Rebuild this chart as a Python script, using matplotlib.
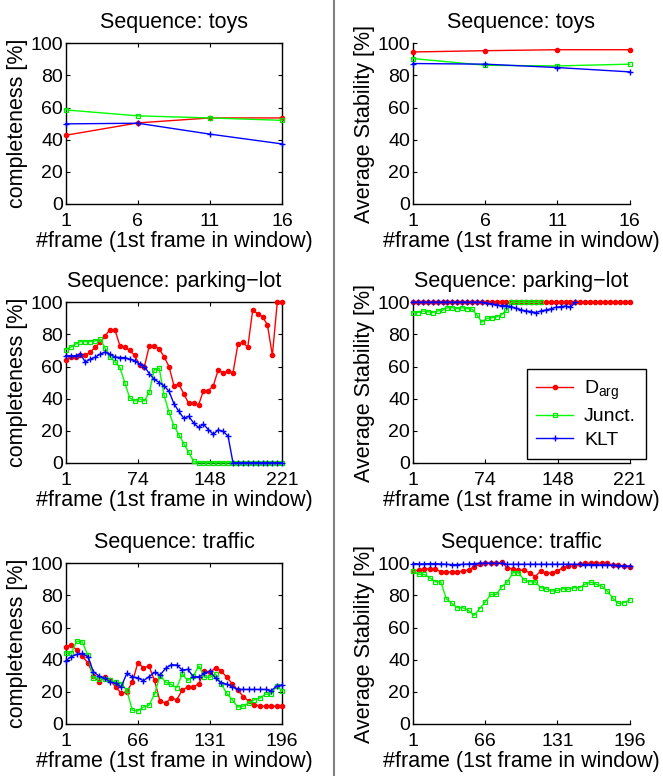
import numpy as np
import matplotlib
matplotlib.use("Agg")
import matplotlib.pyplot as plt
from matplotlib.lines import Line2D

plt.rcParams['font.family'] = ['Liberation Sans', 'DejaVu Sans']
plt.rcParams['mathtext.default'] = 'regular'

# ---------------- data ----------------
series_names = ['D$_{arg}$', 'Junct.', 'KLT']

toys_frames = [1, 6, 11, 16]
toys_ticks = [1, 6, 11, 16]
toys_comp_darg = [42.7, 50.4, 53.5, 53.5]
toys_comp_junct = [58.5, 54.8, 53.5, 52.0]
toys_comp_klt = [49.8, 50.2, 43.4, 37.3]
toys_stab_darg = [94.6, 95.4, 96.0, 96.0]
toys_stab_junct = [90.5, 86.3, 85.9, 87.0]
toys_stab_klt = [87.4, 87.0, 84.9, 82.2]

parking_frames = list(range(1, 222, 5))
parking_ticks = [1, 74, 148, 221]
parking_comp_darg = [64, 66, 66, 67, 67, 69, 72, 75, 79, 83,
                     83, 73, 72, 70, 67, 61, 60, 73, 73, 71,
                     66, 60, 48, 49, 43, 37, 37, 36, 45, 45,
                     48, 58, 56, 57, 56, 74, 75, 72, 95, 93,
                     91, 86, 67, 100, 100]
parking_comp_junct = [70.5, 72, 74, 75.5, 75.5, 75.5, 76, 77, 71.5, 66,
                      63, 59.5, 50, 40.5, 38.5, 40, 38.5, 44, 58, 59,
                      42, 31.5, 23, 17.5, 12, 6.5, 1, 0, 0, 0,
                      0, 0, 0, 0, 0, 0, 0, 0, 0, 0,
                      0, 0, 0, 0, 0]
parking_comp_klt = [66.7, 66.7, 66.7, 67.7, 62.7, 64.6, 65.8, 67.7, 69, 67.7,
                    66, 65.6, 65.6, 64.6, 63.6, 61.5, 60, 55.5, 52, 50,
                    48, 44.5, 36.8, 32, 27.7, 29, 24.8, 22, 24, 20.7,
                    17.8, 20.5, 19.6, 16.6, 0, 0, 0, 0, 0, 0,
                    0, 0, 0, 0, 0]
parking_stab_darg = [100, 100, 100, 100, 100, 100, 100, 100, 100, 100,
                     100, 100, 100, 100, 100, 100, 100, 100, 100, 100,
                     100, 100, 100, 100, 100, 100, 100, 100, 100, 100,
                     100, 100, 100, 100, 100, 100, 100, 100, 100, 100,
                     100, 100, 100, 100, 100]
parking_stab_junct = [93.6, 93.6, 94.6, 94.2, 93.6, 94.6, 95, 96.7, 96.7, 96,
                      96.7, 96, 95.8, 92.1, 87.6, 90, 90.4, 91, 92.3, 95,
                      100, 100, 100, 100, 100, 100, 100, None, None, None,
                      None, None, None, None, None, None, None, None, None, None,
                      None, None, None, None, None]
parking_stab_klt = [100, 100, 100, 100, 100, 100, 100, 100, 100, 100,
                    100, 100, 100, 100, 100, 99.4, 99, 98.3, 97.9, 97.9,
                    97.3, 96.3, 95.2, 94.6, 94.2, 93.6, 94.6, 95.2, 95.9, 96.9,
                    97.3, 97.7, 96.9, 100, None, None, None, None, None, None,
                    None, None, None, None, None]

traffic_frames = list(range(1, 197, 5))
traffic_ticks = [1, 66, 131, 196]
traffic_comp_darg = [48, 49, 46, 42, 38, 30, 26, 29, 27, 23,
                     19, 20, 26, 38, 35, 36, 27, 14, 13, 16,
                     15, 21, 23, 23, 25, 33, 32, 35, 33, 29,
                     25, 21, 17, 14, 12, 11, 11, 11, 11, 11]
traffic_comp_junct = [44, 44, 51.5, 51, 42.7, 28.5, 28, 28, 27, 26,
                      25, 21, 8.5, 8, 10.5, 11.5, 18.5, 30, 26, 24.5,
                      22.5, 31, 27, 30, 36, 29, 29, 31, 25, 19,
                      15, 10.5, 11, 13, 15, 16, 18.5, 18.5, 23.5, 20.5]
traffic_comp_klt = [39.3, 41.8, 43.2, 43.9, 41.8, 32.4, 29.7, 28.3, 26.2, 25.2,
                    23, 31.4, 29.3, 28.7, 26.8, 29.3, 32, 30.4, 34.5, 36.8,
                    36.6, 33.5, 33.9, 29.3, 29.3, 31.4, 32.8, 28.3, 25.6, 24.7,
                    23, 21.4, 21.4, 21.4, 21.4, 21.4, 21.4, 20.6, 23.5, 24.3]
traffic_stab_darg = [95.2, 95.8, 96.3, 96.7, 96.7, 94.6, 94.6, 94.6, 94.6, 95.2,
                     95.8, 97.9, 99.4, 100, 100, 100, 100.5, 97.3, 96.3, 95.8,
                     95.6, 94.2, 91.7, 95.2, 93.8, 94.2, 95.2, 97.3, 98.3, 98.3,
                     99.4, 100, 100, 100.3, 100, 100, 98.8, 98.8, 98.3, 97.7]
traffic_stab_junct = [95.2, 93.1, 93.1, 91, 88.5, 88.5, 77.9, 75, 72.3, 72.3,
                      70.6, 67.5, 71.7, 75.8, 80.6, 80.6, 85.4, 88.3, 94.2, 94.2,
                      89.6, 88.5, 88.5, 84.8, 84.2, 82.7, 83.1, 84.2, 83.8, 84.8,
                      84.8, 86.9, 88.3, 86.9, 85.8, 82.7, 78.1, 75, 75.4, 77.1]
traffic_stab_klt = [99.6, 99.6, 99.6, 99.8, 99.8, 99.6, 99.4, 99.2, 99.2, 99.4,
                    99.6, 99.8, 100, 100, 100, 100, 100, 99.4, 99.4, 99.4,
                    99.4, 99.4, 99.4, 99.4, 99.4, 99.4, 99.4, 99.4, 99.4, 99.4,
                    99.4, 99.2, 99.2, 99, 99, 99, 98.8, 98.6, 98.4, 98.2]

y_ticks = [0, 20, 40, 60, 80, 100]

# ---------------- styling ----------------
styles = [
    dict(color=(1, 0, 0), marker='o', markersize=3.0, markerfacecolor=(1, 0, 0),
         markeredgecolor=(1, 0, 0)),
    dict(color=(0, 1, 0), marker='s', markersize=3.4, markerfacecolor='none',
         markeredgecolor=(0, 0.9, 0), markeredgewidth=0.9),
    dict(color=(0, 0, 1), marker='+', markersize=4, markeredgewidth=1.0),
]

fig = plt.figure(figsize=(6.63, 7.76), dpi=100)
W, H = 663.0, 776.0
col_left = [65.7, 413.0]
ax_w = 216.5
row_top = [43.3, 302.3, 563.3]
ax_h = 160.5

rows = [
    ('toys', toys_frames, toys_ticks,
     [toys_comp_darg, toys_comp_junct, toys_comp_klt],
     [toys_stab_darg, toys_stab_junct, toys_stab_klt]),
    ('parking\u2212lot', parking_frames, parking_ticks,
     [parking_comp_darg, parking_comp_junct, parking_comp_klt],
     [parking_stab_darg, parking_stab_junct, parking_stab_klt]),
    ('traffic', traffic_frames, traffic_ticks,
     [traffic_comp_darg, traffic_comp_junct, traffic_comp_klt],
     [traffic_stab_darg, traffic_stab_junct, traffic_stab_klt]),
]

TICK_FS = 14
LAB_FS = 15.5
for r, (name, frames, ticks, comp, stab) in enumerate(rows):
    for c in range(2):
        l = col_left[c] / W
        b = 1 - (row_top[r] + ax_h) / H
        ax = fig.add_axes([l, b, ax_w / W, ax_h / H])
        data = comp if c == 0 else stab
        for k, (ys, st) in enumerate(zip(data, styles)):
            yv = np.array([np.nan if v is None else v for v in ys], dtype=float)
            ax.plot(frames, yv, linewidth=1.0, clip_on=False, label=series_names[k],
                    zorder=3 + k, **st)
        ax.set_xlim(frames[0], frames[-1])
        ax.set_ylim(0, 100)
        ax.set_xticks(ticks)
        ax.set_yticks(y_ticks)
        ax.set_title('Sequence: ' + name, fontsize=LAB_FS, pad=11)
        ax.set_xlabel('#frame (1st frame in window)', fontsize=LAB_FS, labelpad=0.5)
        ax.set_ylabel('completeness [%]' if c == 0 else 'Average Stability [%]',
                      fontsize=LAB_FS, labelpad=2)
        for sp in ax.spines.values():
            sp.set_linewidth(1.0)
        if c == 0:
            ax.tick_params(direction='in', length=3, width=0.8, top=True, right=True,
                           labelsize=TICK_FS)
        else:
            ax.spines['top'].set_visible(False)
            ax.spines['right'].set_visible(False)
            ax.tick_params(direction='in', length=3, width=0.8, labelsize=TICK_FS)
        ax.tick_params(axis='x', pad=6.5)
        ax.tick_params(axis='y', pad=2)
        if r == 1 and c == 1:
            leg = ax.legend(loc='upper left', bbox_to_anchor=(0.525, 0.584),
                            borderaxespad=0, fontsize=14, frameon=True, fancybox=False,
                            edgecolor='black', framealpha=1,
                            handlelength=1.9, handletextpad=0.55, labelspacing=0.3,
                            borderpad=0.5)
            leg.get_frame().set_linewidth(1.0)

fig.add_artist(Line2D([333.5 / W, 333.5 / W], [0, 1], color='#808080', linewidth=1.5))

fig.savefig('out.png', dpi=100)
